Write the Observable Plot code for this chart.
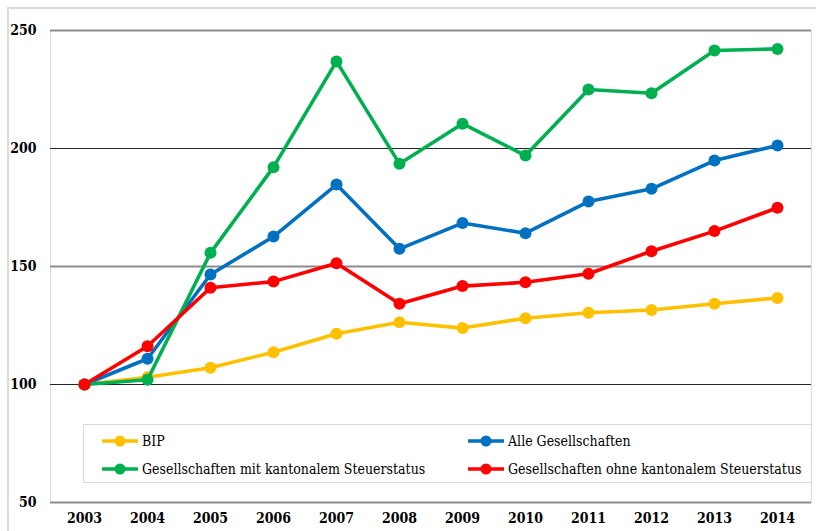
<!DOCTYPE html>
<html>
<head>
<meta charset="utf-8">
<script src="https://cdn.jsdelivr.net/npm/d3@7"></script>
<script src="https://cdn.jsdelivr.net/npm/@observablehq/plot@0.6"></script>
<style>
  html, body { margin: 0; padding: 0; background: #fff; }
  #wrap { position: relative; width: 816px; height: 531px; overflow: hidden; background: #fff; }
  #frame { position: absolute; left: 7px; top: 7px; width: 900px; height: 600px; border: 2px solid #dcdcdc; box-sizing: border-box; }
  #chart { position: absolute; left: 0; top: 0; }
  #chart svg text { font-family: "DejaVu Serif Condensed", "DejaVu Serif", serif !important; font-stretch: condensed; }
  #legend { position: absolute; left: 83px; top: 424px; width: 729px; height: 59px; box-sizing: border-box;
            border: 1px solid #d9d9d9; background: #fff; font-family: "DejaVu Serif Condensed", "DejaVu Serif", serif; font-stretch: condensed; font-size: 14px; color: #000; }
  .item { position: absolute; height: 20px; display: flex; align-items: center; white-space: nowrap; }
  .item svg { margin-right: 4px; }
</style>
</head>
<body>
<div id="wrap">
  <div id="frame"></div>
  <div id="chart"></div>
  <div id="legend"></div>
</div>
<script>
const years = [2003, 2004, 2005, 2006, 2007, 2008, 2009, 2010, 2011, 2012, 2013, 2014];
const bip  = [100, 103.1, 107.1, 113.7, 121.5, 126.4, 123.9, 128.1, 130.4, 131.6, 134.2, 136.7];
const alle = [100, 110.9, 146.6, 162.7, 184.7, 157.5, 168.4, 164.1, 177.5, 182.9, 194.9, 201.3];
const mit  = [100, 102.0, 155.8, 192.1, 236.9, 193.5, 210.5, 197.0, 225.0, 223.4, 241.5, 242.2];
const ohne = [100, 116.2, 141.0, 143.6, 151.4, 134.2, 141.7, 143.3, 146.9, 156.5, 165.0, 174.9];
const seriesNames = ["BIP", "Alle Gesellschaften", "Gesellschaften mit kantonalem Steuerstatus", "Gesellschaften ohne kantonalem Steuerstatus"];
const seriesColors = ["#FFC000", "#0070C0", "#00B050", "#FF0000"];
const seriesValues = [bip, alle, mit, ohne];
const yTicks = [50, 100, 150, 200, 250];
const yearLabels = years.map(String);

const rows = seriesNames.flatMap((name, i) =>
  years.map((yr, j) => ({series: name, year: String(yr), value: seriesValues[i][j]})));

const seriesMarks = seriesNames.flatMap((name, i) => {
  const d = rows.filter(r => r.series === name);
  return [
    Plot.line(d, {x: "year", y: "value", stroke: seriesColors[i], strokeWidth: 3.6}),
    Plot.dot(d, {x: "year", y: "value", r: 6, fill: seriesColors[i], stroke: "none"})
  ];
});

const chart = Plot.plot({
  width: 816,
  height: 531,
  marginLeft: 50,
  marginRight: 5,
  marginTop: 30,
  marginBottom: 29,
  style: {fontFamily: "'DejaVu Serif Condensed', 'DejaVu Serif', serif", fontSize: "14px", fontWeight: "bold", color: "#000", background: "transparent"},
  x: {type: "point", domain: yearLabels, padding: 0.5},
  y: {domain: [50, 250]},
  marks: [
    Plot.frame({stroke: "#dcdcdc"}),
    Plot.ruleY(yTicks, {stroke: d => d % 100 === 0 ? "#262626" : "#8c8c8c", strokeWidth: d => d % 100 === 0 ? 1.2 : 1.8}),
    Plot.axisY({ticks: yTicks, tickSize: 0, tickPadding: 14, label: null, fontWeight: "bold"}),
    Plot.axisX({tickSize: 0, tickPadding: 11, label: null, fontWeight: "bold"}),
    ...seriesMarks
  ]
});
document.getElementById("chart").appendChild(chart);

// legend
const legend = document.getElementById("legend");
const legendPos = [[18, 6], [384, 6], [18, 34], [384, 34]];
seriesNames.forEach((name, i) => {
  const it = document.createElement("div");
  it.className = "item";
  it.style.left = legendPos[i][0] + "px";
  it.style.top = legendPos[i][1] + "px";
  it.innerHTML = `<svg width="36" height="14"><line x1="0" y1="7" x2="36" y2="7" stroke="${seriesColors[i]}" stroke-width="3.5"/><circle cx="18" cy="7" r="5.5" fill="${seriesColors[i]}"/></svg><span>${name}</span>`;
  legend.appendChild(it);
});
</script>
</body>
</html>
